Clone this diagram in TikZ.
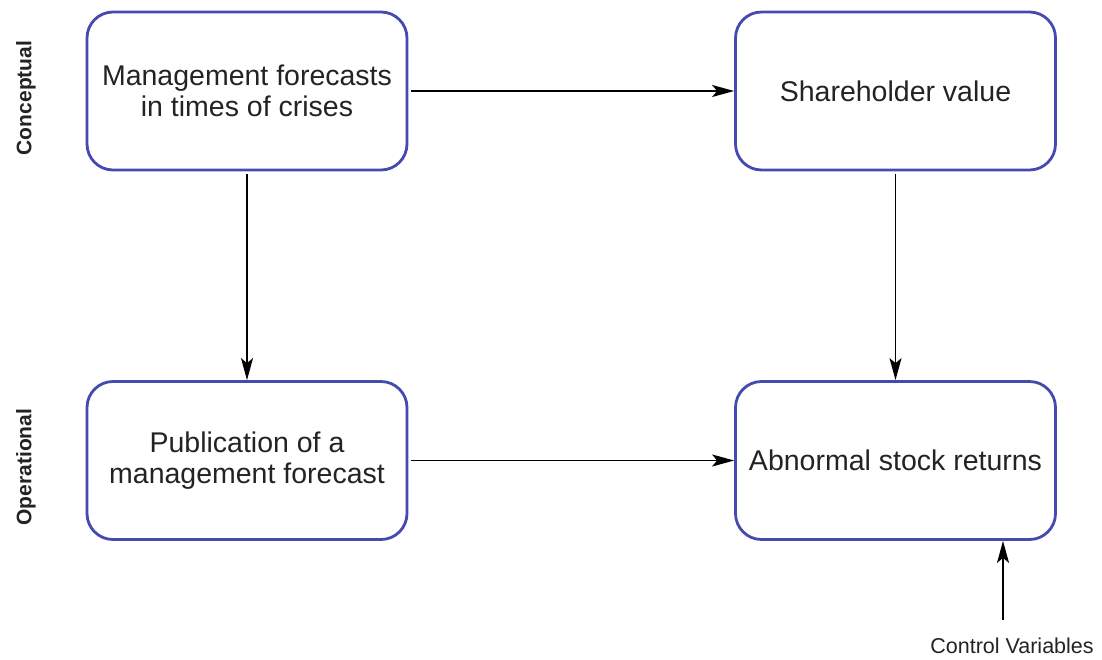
\documentclass[tikz,border=0pt]{standalone}
\usepackage{fontspec}
\setmainfont{Liberation Sans}
\usepackage{xcolor}
\usetikzlibrary{arrows.meta}
\definecolor{boxblue}{RGB}{68,74,176}
\definecolor{txtgray}{RGB}{35,35,35}

\begin{document}
\begin{tikzpicture}[x=1pt,y=-1pt,
  concept/.style={draw=boxblue, line width=2.8pt, rounded corners=26pt, minimum width=320pt, minimum height=158pt, align=center, text=txtgray, font=\fontsize{28.5}{31.5}\selectfont},
  side/.style={rotate=90, font=\fontsize{21}{24}\selectfont\bfseries, text=txtgray},
  link/.style={line width=1.7pt, -{Stealth[length=22pt, width=12pt, inset=5pt]}}]

\useasboundingbox (0,0) rectangle (1102,659);

\node[concept] (mfc) at (247,91) {Management forecasts\\in times of crises};
\node[concept] (sv) at (895.5,91) {Shareholder value};
\node[concept] (pmf) at (247,460.5) {Publication of a\\management forecast};
\node[concept] (asr) at (895.5,460.5) {Abnormal stock returns};

\node[side] (conc) at (26,98) {Conceptual};
\node[side] (oper) at (26,467) {Operational};

\draw[link, shorten <=3pt] (mfc) -- (sv);
\draw[link, shorten <=3pt] (pmf) -- (asr);
\draw[link, shorten <=3pt] (mfc) -- (pmf);
\draw[link, shorten <=3pt] (sv) -- (asr);

\coordinate (cv) at (1003,620);
\node[text=txtgray, font=\fontsize{21.5}{24}\selectfont] (cvlabel) at (1012,646) {Control Variables};
\draw[link] (cv) -- (cv |- asr.south);

\end{tikzpicture}
\end{document}
